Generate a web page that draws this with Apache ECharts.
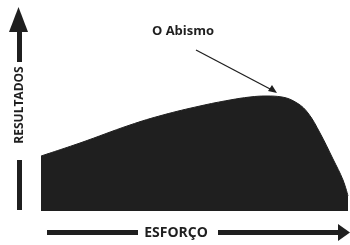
<!DOCTYPE html>
<html>
<head>
<meta charset="utf-8">
<script src="https://cdn.jsdelivr.net/npm/echarts@6/dist/echarts.min.js"></script>
<style>
  html, body { margin: 0; padding: 0; background: #fff; }
  #main { width: 350px; height: 245px; }
</style>
</head>
<body>
<div id="main"></div>
<script>
// esforço (x) e resultados (y)
var effort = [0, 39, 89, 122, 159, 189, 209, 225, 241, 256, 267, 279, 292, 302, 307];
var results = [55, 68, 86, 96, 105, 111, 114, 115, 114, 108, 98, 78, 52, 31, 15];
var labels = ['O Abismo', 'RESULTADOS', 'ESFORÇO'];

var chart = echarts.init(document.getElementById('main'));
var ink = '#1f1f1f';

chart.setOption({
  animation: false,
  grid: { left: 41, right: 2, top: 20, bottom: 34 },
  xAxis: { type: 'value', min: 0, max: 307, show: false },
  yAxis: { type: 'value', min: 0, max: 191, show: false },
  series: [{
    type: 'line',
    smooth: 0.4,
    symbol: 'none',
    lineStyle: { width: 1, color: ink },
    areaStyle: { color: ink, opacity: 1 },
    data: effort.map(function (x, i) { return [x, results[i]]; })
  }],
  graphic: [
    // seta vertical
    { type: 'polygon', shape: { points: [[9, 32], [28, 32], [18.5, 7]] }, style: { fill: ink } },
    { type: 'rect', shape: { x: 17, y: 30, width: 5, height: 32 }, style: { fill: ink } },
    { type: 'rect', shape: { x: 17, y: 160, width: 5, height: 50 }, style: { fill: ink } },
    {
      type: 'text', x: 19.5, y: 105, rotation: Math.PI / 2,
      style: {
        text: labels[1], fill: ink, font: 'bold 12px "Open Sans"',
        align: 'center', verticalAlign: 'middle'
      }
    },
    // seta horizontal
    { type: 'rect', shape: { x: 47, y: 230, width: 91, height: 5 }, style: { fill: ink } },
    { type: 'rect', shape: { x: 218, y: 230, width: 122, height: 5 }, style: { fill: ink } },
    { type: 'polygon', shape: { points: [[338, 224], [338, 241], [350, 232.5]] }, style: { fill: ink } },
    {
      type: 'text', x: 176, y: 233,
      style: {
        text: labels[2], fill: ink, font: 'bold 14px "Open Sans"',
        align: 'center', verticalAlign: 'middle'
      }
    },
    // anotação
    {
      type: 'text', x: 183, y: 31,
      style: {
        text: labels[0], fill: ink, font: 'bold 13px "Open Sans"',
        align: 'center', verticalAlign: 'middle'
      }
    },
    { type: 'line', shape: { x1: 196, y1: 50, x2: 272, y2: 90 }, style: { stroke: ink, lineWidth: 1.3 } },
    { type: 'polygon', shape: { points: [[277, 93], [268, 91], [272, 85]] }, style: { fill: ink } }
  ]
});
</script>
</body>
</html>
